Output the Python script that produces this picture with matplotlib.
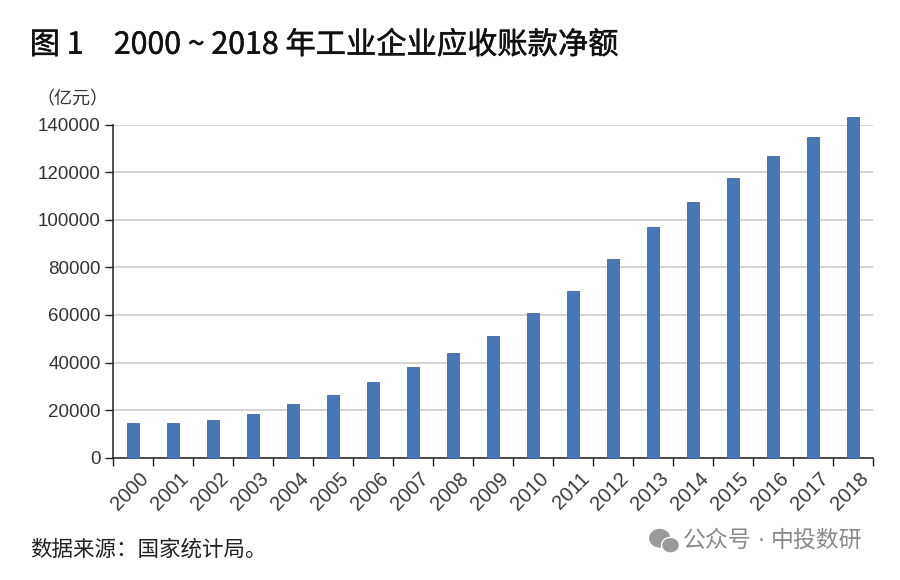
import numpy as np
from matplotlib import pyplot as plt
from matplotlib import patheffects
from matplotlib.patches import Ellipse
from matplotlib.transforms import ScaledTranslation

plt.rcParams['font.family'] = ['Noto Sans CJK SC', 'DejaVu Sans']

years = [str(y) for y in range(2000, 2019)]
# 应收账款净额（亿元）
receivables = [14600, 14600, 16000, 18500, 22600, 26500, 32000, 38300, 44100, 51200,
               60800, 70000, 83500, 97000, 107600, 117600, 127100, 135100, 143500]
yticks = [0, 20000, 40000, 60000, 80000, 100000, 120000, 140000]

fig = plt.figure(figsize=(9, 5.8), dpi=100)
ax = fig.add_axes([0.1259, 0.2112, 0.8445, 0.5733])

x = np.arange(len(years))
ax.bar(x, receivables, width=0.3, color='#4A78B4', edgecolor='#3E679C',
       linewidth=0.6, zorder=3, clip_on=False)

ax.set_xlim(-0.5, len(years) - 0.5)
ax.set_ylim(0, 140000)
ax.set_yticks(yticks)
ax.set_yticklabels([str(v) for v in yticks], family=['Liberation Sans', 'DejaVu Sans'],
                   fontsize=13.5, color='#333333')
ax.yaxis.grid(True, color='#C8C8C8', linewidth=1.1, zorder=0)

ax.set_xticks(x)
ax.set_xticklabels(years, rotation=45, ha='right', va='top', rotation_mode='anchor',
                   family=['Liberation Sans', 'DejaVu Sans'], fontsize=14.5, color='#3a3a3a')
ax.tick_params(axis='x', which='major', length=0, pad=8)
off = ScaledTranslation(6 / 100, 0, fig.dpi_scale_trans)
for lab in ax.get_xticklabels():
    lab.set_transform(lab.get_transform() + off)
ax.set_xticks(np.arange(-0.5, len(years), 1.0), minor=True)
ax.tick_params(axis='x', which='minor', length=6, width=1, color='#222222', direction='out')
ax.tick_params(axis='y', length=6, width=1, color='#222222', direction='out', pad=3)

for s in ['top', 'right']:
    ax.spines[s].set_visible(False)
for s in ['left', 'bottom']:
    ax.spines[s].set_color('#222222')
    ax.spines[s].set_linewidth(1.1)

title = fig.text(0.033, 0.922, '图 1　2000 ~ 2018 年工业企业应收账款净额', fontsize=21.8,
                 color='#111111', va='center')
title.set_path_effects([patheffects.withStroke(linewidth=0.35, foreground='#111111')])
fig.text(0.040, 0.828, '（亿元）', fontsize=13, color='#333333', va='center')
fig.text(0.033, 0.052, '数据来源：国家统计局。', fontsize=15.5, color='#222222', va='center')

# 水印
fig.text(0.759, 0.068, '公众号', fontsize=16.5, color='#8a8a8a', va='center')
fig.text(0.842, 0.068, '·', fontsize=16, color='#8a8a8a', va='center', family='DejaVu Sans')
fig.text(0.857, 0.068, '中投数研', fontsize=16.5, color='#8a8a8a', va='center')
fig.patches.append(Ellipse((0.733, 0.072), 0.022, 0.030, transform=fig.transFigure,
                           color='#9a9a9a', zorder=5))
fig.patches.append(Ellipse((0.745, 0.060), 0.020, 0.027, transform=fig.transFigure,
                           facecolor='#9a9a9a', edgecolor='white', linewidth=1, zorder=6))

fig.savefig('out.png', dpi=100, facecolor='white')
